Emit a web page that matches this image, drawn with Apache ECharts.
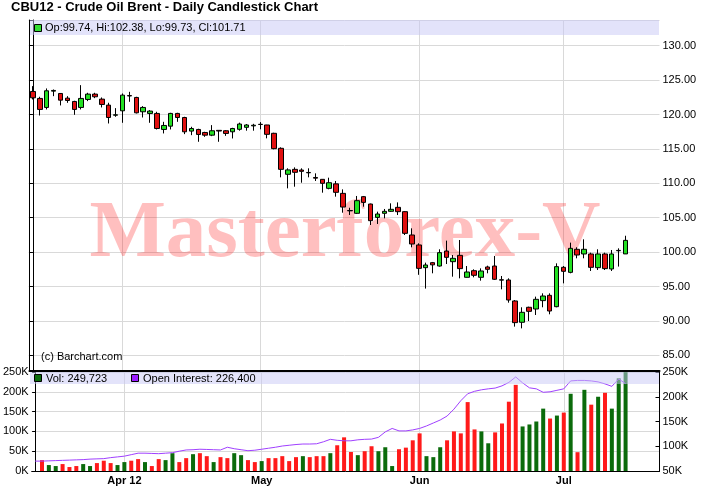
<!DOCTYPE html>
<html><head><meta charset="utf-8">
<script src="https://cdn.jsdelivr.net/npm/echarts@6/dist/echarts.min.js"></script>
<style>html,body{margin:0;padding:0;background:#fff}#c{width:710px;height:490px}</style>
</head><body><div id="c"></div>
<script>
// ---- data (daily, Mar 2012 .. 13 Jul 2012) ----
const opens  = [123.35,122.34,121.03,123.40,123.06,122.38,121.90,121.03,122.19,122.97,122.24,121.37,119.90,120.54,122.75,122.48,120.40,120.16,120.16,117.83,118.31,120.16,119.57,117.59,117.83,117.39,117.00,117.70,117.64,117.49,117.85,118.14,118.35,118.55,118.48,117.27,115.09,111.31,112.03,111.93,111.58,110.85,110.58,109.27,109.92,108.54,106.05,105.64,108.06,106.99,105.05,105.64,105.93,106.51,105.88,102.49,101.04,97.74,98.47,97.98,100.16,98.61,99.53,96.34,97.30,96.34,97.84,97.98,95.98,95.95,92.90,89.80,91.98,91.73,92.95,93.72,92.07,97.79,97.06,100.41,99.73,99.73,97.74,99.73,97.55,100.20,99.74];
const closes = [122.43,120.74,123.45,123.50,122.09,122.04,120.74,122.34,122.97,122.58,121.46,119.57,119.96,122.82,122.70,120.25,121.03,120.50,117.97,118.41,120.16,119.57,117.49,117.97,117.10,117.00,117.64,117.60,117.25,117.97,118.62,118.48,118.45,118.58,117.12,115.04,112.03,111.95,111.60,111.74,111.53,110.75,110.00,110.09,108.69,106.55,106.00,107.48,107.23,104.57,105.54,105.93,106.22,105.88,102.73,101.18,97.64,98.13,98.15,99.92,99.24,99.10,97.60,97.11,96.63,97.26,97.50,96.05,95.93,93.04,89.75,91.25,91.39,93.14,93.62,91.44,97.89,97.21,100.55,99.58,100.41,97.79,99.73,97.60,99.73,100.25,101.71];
const lows   = [122.19,119.86,120.74,122.67,121.32,121.70,119.96,120.74,121.95,122.38,121.03,118.70,119.67,118.80,121.85,120.16,119.57,118.80,117.83,117.25,117.83,118.94,117.15,117.00,116.04,116.76,116.86,116.04,116.90,116.52,117.65,117.65,117.65,117.85,116.54,114.94,110.87,109.27,109.51,110.09,110.87,110.34,108.64,109.13,108.06,105.73,105.40,105.54,106.60,103.94,104.09,104.91,105.85,105.39,102.49,100.70,96.70,94.70,96.92,97.89,98.27,96.43,96.19,96.30,96.34,95.85,96.92,95.95,94.59,92.65,89.17,88.92,89.99,90.86,91.98,90.96,91.98,95.46,96.92,99.10,99.10,97.26,97.40,97.40,97.26,97.90,99.73];
const highs  = [124.13,122.58,123.79,123.64,123.10,122.67,122.00,124.27,123.16,123.16,122.48,121.71,120.93,123.06,123.30,122.58,121.22,120.64,120.40,118.94,120.25,120.25,119.67,118.22,117.93,117.49,118.46,117.73,117.73,118.07,118.82,118.62,118.65,118.90,118.50,117.35,115.23,112.18,112.32,112.18,112.18,111.45,110.60,110.82,110.34,109.12,106.45,108.16,108.16,107.05,105.88,106.27,107.09,107.23,105.95,103.46,101.28,98.47,98.57,100.41,101.67,99.58,101.76,97.98,97.50,97.64,98.03,99.44,96.53,96.19,93.04,91.98,92.07,93.53,94.01,94.01,98.37,97.98,101.38,100.70,101.86,99.92,100.41,99.92,100.31,100.55,102.38];
// volume and open interest, thousands of contracts
const volumes = [null,27.5,15,12.5,17.5,10,12.5,17.5,12.5,20,26,20,15,22.5,26,30,22.5,12.5,30,27.5,45,22.5,32.5,42.5,45,37.5,22.5,35,32.5,45,40,27.5,22.5,25,32.5,32.5,37.5,25,35,37.5,35,37.5,37.5,45,65,85,48,40,50,62.5,50,60,12.5,55,59,77.5,95,37.5,35,60,77.5,100,95,174,105,100,70,97.5,120,175,217.5,112.5,117.5,125,157.5,132.5,140,147.5,195,47.5,205,167.5,187.5,197.5,157.5,234,249.723];
const openInterest = [70,70,70.5,71,71.5,72,72.5,73,74,74.5,75,77,78.5,80,83,86,86,85.5,85,86,87,90,92.5,93,94,93.5,93,92.5,98,95,93,91,92,94,96,98,100.5,102,103.5,104.5,104.5,105,109,114,112,111,111,113,114,114.5,118,129,136,131,131,133,136,141,147,153,161,175,192,206,211,214,216,217.5,222,229,240,228,218,216,209,210,213,216,232,233,233,232,230,226,221,236,226.4];
const monthTicks  = [13, 33, 56, 77];
const monthLabels = ['Apr 12', 'May', 'Jun', 'Jul'];

const FONT = '"Liberation Sans", Arial, sans-serif';
const chart = echarts.init(document.getElementById('c'), null, {renderer: 'canvas'});

const n = opens.length;
const last = n - 1;
const candleData = opens.map((o, i) => [i, o, closes[i], lows[i], highs[i]]);
const volData = volumes.map((v, i) => ({
  value: [i, v],
  itemStyle: {color: (i > 0 && closes[i] >= closes[i - 1]) ? '#0b6b0b' : '#ff1a1a'}
}));
const oiData = openInterest.map((v, i) => [i, v]);
const fmtK = v => Math.round(v * 1000).toLocaleString('en-US');

const xMin = -0.5, xMax = 90.94;
const gridLineColor = '#d9d9d9';

function xAxisBase(gridIndex, showLabels) {
  return {
    type: 'value', gridIndex, min: xMin, max: xMax,
    axisLine: {show: true, onZero: false, lineStyle: {color: '#000', width: gridIndex === 0 ? 2 : 1}},
    axisTick: {show: false, customValues: monthTicks},
    splitLine: {show: true, lineStyle: {color: gridLineColor, width: 1}},
    axisLabel: {
      show: showLabels, customValues: monthTicks, margin: 4,
      fontFamily: FONT, fontSize: 11, fontWeight: 'bold', color: '#000',
      formatter: v => monthLabels[monthTicks.indexOf(v)] || ''
    }
  };
}

const option = {
  animation: false,
  backgroundColor: '#fff',
  grid: [
    {left: 29.5, top: 20, width: 630, height: 351},
    {left: 29.5, top: 372, width: 630, height: 99}
  ],
  xAxis: [xAxisBase(0, false), xAxisBase(1, true)],
  yAxis: [
    { // price, right
      type: 'value', gridIndex: 0, position: 'right', min: 82.72, max: 133.74, splitNumber: 10,
      axisLine: {show: true, lineStyle: {color: '#000'}},
      axisTick: {show: true, inside: true, length: 4, lineStyle: {color: '#000'}},
      splitLine: {show: true, lineStyle: {color: gridLineColor}},
      axisLabel: {
        margin: 3, fontFamily: FONT, fontSize: 11, color: '#000',
        formatter: v => Math.abs(v / 5 - Math.round(v / 5)) < 1e-6 ? v.toFixed(2) : ''
      }
    },
    { // left frame line of price panel
      type: 'value', gridIndex: 0, position: 'left', min: 82.72, max: 133.74,
      axisLine: {show: true, lineStyle: {color: '#000'}},
      axisTick: {show: false}, axisLabel: {show: false}, splitLine: {show: false}
    },
    { // volume, left
      type: 'value', gridIndex: 1, position: 'left', min: 0, max: 250, interval: 50,
      axisLine: {show: true, lineStyle: {color: '#000'}},
      axisTick: {show: true, length: 3, lineStyle: {color: '#000'}},
      splitLine: {show: true, lineStyle: {color: gridLineColor}},
      axisLabel: {margin: 3, fontFamily: FONT, fontSize: 11, color: '#000', formatter: v => v + 'K'}
    },
    { // open interest, right
      type: 'value', gridIndex: 1, position: 'right', min: 50, max: 250, interval: 50,
      axisLine: {show: true, lineStyle: {color: '#000'}},
      axisTick: {show: true, inside: true, length: 4, lineStyle: {color: '#000'}},
      splitLine: {show: false},
      axisLabel: {margin: 3, fontFamily: FONT, fontSize: 11, color: '#000', formatter: v => v + 'K'}
    }
  ],
  graphic: {elements: [
    {type: 'text', left: 11, top: 1, z: 20, style: {text: 'CBU12 - Crude Oil Brent - Daily Candlestick Chart', font: 'bold 13px ' + FONT, fill: '#000'}},
    {type: 'text', x: 345, y: 276, z: 1, silent: true, style: {text: 'Masterforex-V', font: 'bold 81px "Liberation Serif", "Times New Roman", serif', fill: 'rgba(255,0,0,0.25)', textAlign: 'center', textVerticalAlign: 'bottom'}},
    {type: 'rect', shape: {x: 30, y: 20, width: 629, height: 15}, z: 10, style: {fill: 'rgba(200,200,245,0.5)'}},
    {type: 'rect', shape: {x: 34.5, y: 24.5, width: 7, height: 7}, z: 11, style: {fill: '#33dd33', stroke: '#000', lineWidth: 1}},
    {type: 'text', x: 45, y: 28, z: 11, style: {text: 'Op:' + opens[last].toFixed(2) + ', Hi:' + highs[last].toFixed(2) + ', Lo:' + lows[last].toFixed(2) + ', Cl:' + closes[last].toFixed(2), font: '11px ' + FONT, fill: '#000', textVerticalAlign: 'middle'}},
    {type: 'text', x: 41, y: 357, z: 11, style: {text: '(c) Barchart.com', font: '11px ' + FONT, fill: '#000', textVerticalAlign: 'middle'}},
    {type: 'rect', shape: {x: 30, y: 372, width: 629, height: 12}, z: 10, style: {fill: 'rgba(200,200,245,0.5)'}},
    {type: 'rect', shape: {x: 34.5, y: 374.5, width: 7, height: 7}, z: 11, style: {fill: '#0b6b0b', stroke: '#000', lineWidth: 1}},
    {type: 'text', x: 46, y: 378.5, z: 11, style: {text: 'Vol: ' + fmtK(volumes[last]), font: '11px ' + FONT, fill: '#000', textVerticalAlign: 'middle'}},
    {type: 'rect', shape: {x: 131.5, y: 374.5, width: 7, height: 7}, z: 11, style: {fill: '#9a1aff', stroke: '#000', lineWidth: 1}},
    {type: 'text', x: 143, y: 378.5, z: 11, style: {text: 'Open Interest: ' + fmtK(openInterest[last]), font: '11px ' + FONT, fill: '#000', textVerticalAlign: 'middle'}}
  ]},
  series: [
    {
      type: 'candlestick', xAxisIndex: 0, yAxisIndex: 0, z: 5,
      data: candleData, encode: {x: 0, y: [1, 2, 3, 4]},
      barWidth: 5,
      itemStyle: {color: '#22e022', color0: '#e01010', borderColor: '#000', borderColor0: '#000', borderWidth: 1},
      markLine: {
        silent: true, symbol: 'none', animation: false,
        lineStyle: {opacity: 0},
        label: {position: 'end', distance: 2, formatter: () => closes[last].toFixed(2), color: '#fff', backgroundColor: '#000', padding: [1, 2, 0, 2], fontFamily: FONT, fontSize: 11},
        data: [{yAxis: closes[last]}]
      }
    },
    {
      type: 'bar', xAxisIndex: 1, yAxisIndex: 2, z: 3, barWidth: 4,
      data: volData
    },
    {
      type: 'line', xAxisIndex: 1, yAxisIndex: 3, z: 4, showSymbol: false, symbol: 'none',
      lineStyle: {color: '#a040ff', width: 1}, itemStyle: {color: '#a040ff'},
      data: oiData
    }
  ]
};
chart.setOption(option);
</script></body></html>
